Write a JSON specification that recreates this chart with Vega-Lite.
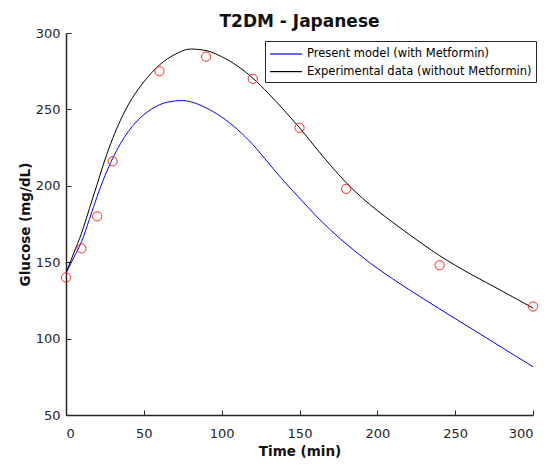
{
  "$schema": "https://vega.github.io/schema/vega-lite/v6.json",
  "width": 467,
  "height": 382,
  "autosize": {"type": "none"},
  "padding": {"left": 66, "top": 33, "right": 17, "bottom": 52},
  "background": "white",
  "title": {"text": "T2DM - Japanese", "fontSize": 17, "font": "DejaVu Sans", "fontWeight": "bold", "color": "#111111", "anchor": "middle", "dy": 10, "offset": 6},
  "config": {
    "view": {"stroke": null},
    "font": "DejaVu Sans",
    "axis": {"grid": false, "domainColor": "#262626", "domainWidth": 1.5, "tickColor": "#262626", "tickSize": -5, "labelColor": "#262626", "labelFontSize": 13, "labelFont": "DejaVu Sans", "titleFont": "DejaVu Sans", "titleFontSize": 13.5, "titleFontWeight": "bold", "titleColor": "#111111"}
  },
  "data": {"values": [
    {"t": 0, "g": 143, "s": "Present model (with Metformin)"},
    {"t": 5, "g": 153, "s": "Present model (with Metformin)"},
    {"t": 10, "g": 163.5, "s": "Present model (with Metformin)"},
    {"t": 15, "g": 178, "s": "Present model (with Metformin)"},
    {"t": 20, "g": 193, "s": "Present model (with Metformin)"},
    {"t": 25, "g": 206.5, "s": "Present model (with Metformin)"},
    {"t": 30, "g": 218, "s": "Present model (with Metformin)"},
    {"t": 40, "g": 235.5, "s": "Present model (with Metformin)"},
    {"t": 50, "g": 246.5, "s": "Present model (with Metformin)"},
    {"t": 60, "g": 253, "s": "Present model (with Metformin)"},
    {"t": 70, "g": 255.5, "s": "Present model (with Metformin)"},
    {"t": 75, "g": 255.8, "s": "Present model (with Metformin)"},
    {"t": 80, "g": 255, "s": "Present model (with Metformin)"},
    {"t": 90, "g": 251, "s": "Present model (with Metformin)"},
    {"t": 100, "g": 245, "s": "Present model (with Metformin)"},
    {"t": 110, "g": 237, "s": "Present model (with Metformin)"},
    {"t": 120, "g": 227, "s": "Present model (with Metformin)"},
    {"t": 130, "g": 215, "s": "Present model (with Metformin)"},
    {"t": 140, "g": 203, "s": "Present model (with Metformin)"},
    {"t": 150, "g": 192, "s": "Present model (with Metformin)"},
    {"t": 160, "g": 181, "s": "Present model (with Metformin)"},
    {"t": 170, "g": 171, "s": "Present model (with Metformin)"},
    {"t": 180, "g": 162, "s": "Present model (with Metformin)"},
    {"t": 190, "g": 153.7, "s": "Present model (with Metformin)"},
    {"t": 200, "g": 146, "s": "Present model (with Metformin)"},
    {"t": 210, "g": 139, "s": "Present model (with Metformin)"},
    {"t": 220, "g": 132.3, "s": "Present model (with Metformin)"},
    {"t": 230, "g": 125.8, "s": "Present model (with Metformin)"},
    {"t": 240, "g": 119.4, "s": "Present model (with Metformin)"},
    {"t": 250, "g": 113.1, "s": "Present model (with Metformin)"},
    {"t": 260, "g": 106.8, "s": "Present model (with Metformin)"},
    {"t": 270, "g": 100.5, "s": "Present model (with Metformin)"},
    {"t": 280, "g": 94.2, "s": "Present model (with Metformin)"},
    {"t": 290, "g": 87.9, "s": "Present model (with Metformin)"},
    {"t": 300, "g": 81.6, "s": "Present model (with Metformin)"},
    {"t": 0, "g": 143, "s": "Experimental data (without Metformin)"},
    {"t": 5, "g": 156, "s": "Experimental data (without Metformin)"},
    {"t": 10, "g": 169, "s": "Experimental data (without Metformin)"},
    {"t": 15, "g": 185, "s": "Experimental data (without Metformin)"},
    {"t": 20, "g": 201, "s": "Experimental data (without Metformin)"},
    {"t": 25, "g": 217, "s": "Experimental data (without Metformin)"},
    {"t": 30, "g": 231, "s": "Experimental data (without Metformin)"},
    {"t": 40, "g": 253, "s": "Experimental data (without Metformin)"},
    {"t": 50, "g": 268, "s": "Experimental data (without Metformin)"},
    {"t": 60, "g": 279, "s": "Experimental data (without Metformin)"},
    {"t": 70, "g": 286, "s": "Experimental data (without Metformin)"},
    {"t": 80, "g": 289.5, "s": "Experimental data (without Metformin)"},
    {"t": 90, "g": 288.5, "s": "Experimental data (without Metformin)"},
    {"t": 100, "g": 284.5, "s": "Experimental data (without Metformin)"},
    {"t": 110, "g": 278.5, "s": "Experimental data (without Metformin)"},
    {"t": 120, "g": 270.5, "s": "Experimental data (without Metformin)"},
    {"t": 130, "g": 260.5, "s": "Experimental data (without Metformin)"},
    {"t": 140, "g": 249.5, "s": "Experimental data (without Metformin)"},
    {"t": 150, "g": 238, "s": "Experimental data (without Metformin)"},
    {"t": 160, "g": 225.5, "s": "Experimental data (without Metformin)"},
    {"t": 170, "g": 213.3, "s": "Experimental data (without Metformin)"},
    {"t": 180, "g": 202, "s": "Experimental data (without Metformin)"},
    {"t": 190, "g": 192.3, "s": "Experimental data (without Metformin)"},
    {"t": 200, "g": 183.8, "s": "Experimental data (without Metformin)"},
    {"t": 210, "g": 176, "s": "Experimental data (without Metformin)"},
    {"t": 220, "g": 168.5, "s": "Experimental data (without Metformin)"},
    {"t": 230, "g": 161.2, "s": "Experimental data (without Metformin)"},
    {"t": 240, "g": 154.3, "s": "Experimental data (without Metformin)"},
    {"t": 250, "g": 148, "s": "Experimental data (without Metformin)"},
    {"t": 260, "g": 142.2, "s": "Experimental data (without Metformin)"},
    {"t": 270, "g": 136.7, "s": "Experimental data (without Metformin)"},
    {"t": 280, "g": 131.2, "s": "Experimental data (without Metformin)"},
    {"t": 290, "g": 125.6, "s": "Experimental data (without Metformin)"},
    {"t": 300, "g": 120, "s": "Experimental data (without Metformin)"},
    {"t": 0, "g": 140, "s": "points"},
    {"t": 10, "g": 159, "s": "points"},
    {"t": 20, "g": 180, "s": "points"},
    {"t": 30, "g": 216, "s": "points"},
    {"t": 60, "g": 275, "s": "points"},
    {"t": 90, "g": 284.5, "s": "points"},
    {"t": 120, "g": 270, "s": "points"},
    {"t": 150, "g": 238, "s": "points"},
    {"t": 180, "g": 198, "s": "points"},
    {"t": 240, "g": 148, "s": "points"},
    {"t": 300, "g": 121, "s": "points"}
  ]},
  "encoding": {
    "x": {"field": "t", "type": "quantitative", "scale": {"domain": [0, 300], "nice": false, "zero": false}, "axis": {"values": [0, 50, 100, 150, 200, 250, 300], "title": "Time (min)", "labelPadding": 17, "titlePadding": 4}},
    "y": {"field": "g", "type": "quantitative", "scale": {"domain": [50, 300], "nice": false, "zero": false}, "axis": {"values": [50, 100, 150, 200, 250, 300], "title": "Glucose (mg/dL)", "labelPadding": 11, "titlePadding": 3}}
  },
  "layer": [
    {
      "transform": [{"filter": "datum.s != 'points'"}],
      "mark": {"type": "line", "strokeWidth": 1, "interpolate": "monotone", "clip": true},
      "encoding": {
        "color": {"field": "s", "type": "nominal", "scale": {"domain": ["Present model (with Metformin)", "Experimental data (without Metformin)"], "range": ["#0000ff", "#000000"]},
          "legend": {"title": null, "orient": "none", "legendX": 199, "legendY": 8, "direction": "vertical", "symbolType": "M-1,0L3,0", "symbolSize": 256, "symbolStrokeWidth": 1.2, "labelFontSize": 11.5, "labelLimit": 0, "labelColor": "#000000", "labelFont": "DejaVu Sans", "strokeColor": "#262626", "fillColor": "white", "padding": 4, "rowPadding": 2.6, "labelOffset": 20}}
      }
    },
    {
      "transform": [{"filter": "datum.s == 'points'"}],
      "mark": {"type": "point", "shape": "circle", "filled": false, "color": "#ff0000", "size": 85, "strokeWidth": 1, "opacity": 0.85},
      "encoding": {}
    }
  ]
}
